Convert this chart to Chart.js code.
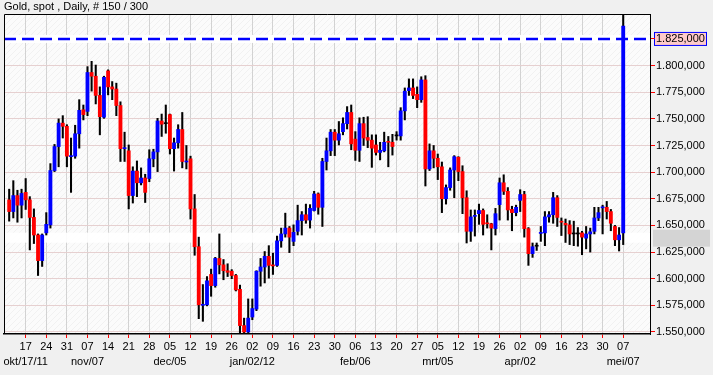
<!DOCTYPE html>
<html>
<head>
<meta charset="utf-8">
<script src="https://cdn.jsdelivr.net/npm/chart.js@4"></script>
<style>
  html, body { margin: 0; padding: 0; background: #f0f0f0; }
  canvas { display: block; }
</style>
</head>
<body>
<canvas id="c" width="713" height="375" style="width:713px;height:375px"></canvas>
<script>
// ---- data (Gold spot, daily, 150 bars: 2011-10-11 .. 2012-05-07) ----
const OPEN = [1674,1663,1678,1669,1681,1674,1657.5,1641,1617,1643,
1650.5,1701.5,1724,1746,1743,1714.5,1715,1736,1758.5,1757,
1793.5,1790,1772,1751.5,1795,1780,1778,1762.5,1722,1720,
1678,1701,1690,1694.5,1694,1712.5,1719,1748,1745.5,1754,
1722,1727.5,1740,1709.5,1712.5,1665.5,1630,1575,1575.5,1604,
1593.5,1619,1613,1607.5,1607,1603,1590,1556,1550,1564,
1571.5,1607,1611,1621,1612.5,1612.5,1635.5,1642,1647.5,1635,
1644.5,1654.5,1660,1655,1664,1679.5,1667,1710,1720,1737.5,
1730,1738,1745.5,1756,1731,1720.5,1745.5,1732.5,1730,1725.5,
1718.5,1720,1728.5,1728,1734,1734,1757.5,1776.5,1779,1773,
1768,1786.5,1703,1720,1713,1705,1675,1685.5,1702,1714,
1700.5,1676,1644.5,1658.5,1661,1664,1652,1651.5,1647,1669.5,
1690,1682,1665,1662,1673.5,1679,1647,1623.5,1630.5,1642.5,
1643,1658,1660,1676,1653.5,1652,1650.5,1642,1642,1643,
1638,1642,1644.5,1657,1666.5,1667,1663,1649,1636.5,1643];
const HIGH = [1684,1692,1683,1684,1694,1677,1665.5,1642,1642,1662,
1708,1726,1750,1753,1744.5,1732,1744,1768,1763,1799,
1804,1800.5,1780,1790,1796,1785,1783.5,1766,1737.5,1725.5,
1705,1710.5,1704,1698,1721,1721.5,1750.5,1754.5,1763,1754.5,
1732,1744.5,1756,1725,1715,1679,1639,1594.5,1602,1609,
1620,1642,1618,1614,1608.5,1604,1594,1563,1581,1581,
1607.5,1619,1625.5,1631,1624,1640,1647.5,1661.5,1649,1650.5,
1669,1663,1670,1669.5,1682,1680.5,1713,1732,1740,1740,
1747.5,1751,1761.5,1763,1738,1751,1751.5,1752,1735,1735,
1728,1737.5,1733.5,1735.5,1738,1760.5,1779,1787.5,1787.5,1780,
1789.5,1790.5,1726.5,1725,1717,1709.5,1688,1704,1715.5,1714.5,
1706,1682.5,1664.5,1664.5,1670,1665.5,1660,1652,1666,1694.5,
1697.5,1685.5,1668,1669,1683.5,1682,1648,1633.5,1633.5,1649,
1663,1663,1681,1678,1657,1656,1654.5,1654,1648,1644.5,
1649,1647.5,1667,1667,1669,1672.5,1665,1650,1648,1848];
const LOW = [1654,1657,1653,1657,1665,1627,1633,1603,1611.5,1641,
1647.5,1700.5,1705,1732,1705,1681,1713,1722.5,1749,1753,
1776,1764,1735,1750.5,1772.5,1768,1753,1710,1710,1665.5,
1671,1677,1688,1671.5,1691,1705,1700.5,1733.5,1736.5,1717,
1701,1722.5,1704,1703,1656,1622,1562.5,1560,1574.5,1583.5,
1592,1604.5,1599,1602,1600,1588.5,1549,1549,1548.5,1561.5,
1570,1593,1596,1600.5,1604,1611.5,1629.5,1639,1624.5,1631,
1641,1641,1652,1647.5,1663.5,1660.5,1649,1702,1715.5,1715.5,
1725.5,1735,1740.5,1721,1711,1710,1725,1723,1704.5,1716,
1711.5,1719,1705,1716,1730,1730,1749,1772,1769,1760.5,
1765.5,1687,1701.5,1704,1693,1662,1670,1683,1676,1692,
1661,1633.5,1635,1640,1651,1641,1647.5,1627,1641,1655,
1679,1655,1645,1659,1663,1639,1612.5,1620,1626.5,1635,
1631,1653,1652,1649,1640.5,1634,1632,1631,1630.5,1622.5,
1628,1625,1642,1654.5,1642,1656,1645,1631,1626,1632];
const CLOSE = [1663,1678,1669,1680,1674,1657.5,1641,1617,1641,1651,
1701.5,1724,1746,1743,1715,1715.5,1736,1758,1754,1793.5,
1790,1772,1752,1789,1780,1778,1762.5,1722,1723,1678,
1701,1690,1694.5,1681,1712.5,1719,1748,1745,1745.5,1722,
1727.5,1740,1710,1710,1665.5,1630,1575.5,1576,1598,1593.5,
1619,1613,1607.5,1606,1603,1589.5,1556,1550,1563,1572,
1607,1611,1621,1612.5,1612,1635.5,1642,1647.5,1639,1643.5,
1654.5,1660,1655,1666,1679.5,1667,1710,1720,1737.5,1730,
1736,1745.5,1756,1726.5,1720.5,1745.5,1732,1730,1722.5,1718.5,
1720.5,1728,1728,1724,1734,1757.5,1776,1779,1772,1768,
1786.5,1703,1720,1713,1705,1675,1685.5,1702,1714.5,1700.5,
1676,1644.5,1658,1659,1664,1651,1651.5,1647.5,1661,1690,
1682,1664.5,1662,1667,1679,1647,1623.5,1630,1630.5,1643,
1658,1660,1676,1657.5,1653,1650.5,1642,1642,1642,1639,
1642,1644,1657,1662,1667,1663,1652,1636.5,1641,1837];

// x-axis ticks: weekly Mondays (bar index), day labels and month labels
const TICK_INDEX = [4,9,14,19,24,29,34,39,44,49,54,59,64,69,74,79,84,89,94,99,104,109,114,119,124,129,134,139,144,149];
const DAY_LABELS = ["17","24","31","07","14","21","28","05","12","19","26","02","09","16","23","30","06","13","20","27","05","12","19","26","02","09","16","23","30","07"];
const MONTH_LABELS = ["okt/17/11","","","nov/07","","","","dec/05","","","","jan/02/12","","","","","feb/06","","","","mrt/05","","","","apr/02","","","","","mei/07"];
// y-axis ticks
const Y_TICKS = [1550,1575,1600,1625,1650,1675,1700,1725,1750,1775,1800,1825];
// reference levels
const REF_LEVEL = 1825;      // blue dashed line with label box
const LAST_LEVEL = 1638.5;   // white band / grey marker

const TITLE = "Gold, spot , Daily, # 150 / 300";
const FONT = "'Liberation Sans', Arial, sans-serif";

function fmt(v){
  const t = Math.floor(v/1000);
  const r = Math.round(v - t*1000);
  return t + '.' + String(r).padStart(3,'0') + ',000';
}

const bodyColors = OPEN.map((o,i)=> CLOSE[i] > o ? '#0000ff' : (CLOSE[i] < o ? '#ff0000' : '#000000'));
const wickData = HIGH.map((h,i)=>({x:i, y:[LOW[i], h]}));
const bodyData = OPEN.map((o,i)=>({x:i, y:[o, CLOSE[i]]}));

function makePattern(ctx){
  const p = document.createElement('canvas');
  p.width = 6; p.height = 6;
  const g = p.getContext('2d');
  g.fillStyle = '#fbfbfb'; g.fillRect(0,0,6,6);
  g.strokeStyle = '#f1f1f1'; g.lineWidth = 1;
  g.beginPath(); g.moveTo(0,6); g.lineTo(6,0); g.stroke();
  return ctx.createPattern(p,'repeat');
}

const decor = {
  id: 'decor',
  beforeDraw(chart){
    const {ctx, chartArea:a, scales:{y}} = chart;
    ctx.save();
    ctx.fillStyle = makePattern(ctx);
    ctx.fillRect(a.left, a.top, a.right-a.left, a.bottom-a.top);
    const yr = y.getPixelForValue(REF_LEVEL);
    ctx.fillStyle = '#ffcaca';
    ctx.fillRect(654.5, yr-6.5, 52, 13);
    ctx.strokeStyle = '#0000ff'; ctx.lineWidth = 1;
    ctx.strokeRect(654.5, yr-6.5, 52, 13);
    const yl = y.getPixelForValue(LAST_LEVEL);
    ctx.fillStyle = '#d4d4d4';
    ctx.fillRect(653, yl-8, 57, 17);
    ctx.restore();
  },
  beforeDatasetsDraw(chart){
    const {ctx, chartArea:a, scales:{y}} = chart;
    ctx.save();
    const yl = y.getPixelForValue(LAST_LEVEL);
    ctx.fillStyle = 'rgba(255,255,255,0.9)';
    ctx.fillRect(a.left, yl-5, a.right-a.left, 10);
    const yr = y.getPixelForValue(REF_LEVEL);
    ctx.fillStyle = '#ffffff';
    ctx.fillRect(a.left, yr-4, a.right-a.left, 8);
    ctx.strokeStyle = '#0000ff'; ctx.lineWidth = 2.5;
    ctx.setLineDash([12,6]);
    ctx.beginPath(); ctx.moveTo(a.left, yr); ctx.lineTo(a.right, yr); ctx.stroke();
    ctx.restore();
  },
  afterDraw(chart){
    const {ctx, chartArea:a} = chart;
    ctx.save();
    ctx.strokeStyle = '#000'; ctx.lineWidth = 1;
    ctx.beginPath();
    ctx.moveTo(a.left+0.5, a.bottom); ctx.lineTo(a.left+0.5, a.top+0.5); ctx.lineTo(a.right, a.top+0.5);
    ctx.stroke();
    ctx.restore();
  }
};

new Chart(document.getElementById('c'), {
  type: 'bar',
  data: {
    datasets: [
      { label: 'body', data: bodyData, backgroundColor: bodyColors, barThickness: 3.2, minBarLength: 1, grouped: false, order: 0, borderWidth: 0 },
      { label: 'wick', data: wickData, backgroundColor: '#000000', barThickness: 1.4, grouped: false, order: 1, borderWidth: 0 }
    ]
  },
  options: {
    responsive: false,
    animation: false,
    devicePixelRatio: 1,
    layout: { padding: { left: 4, top: 0, right: 0, bottom: 0 } },
    plugins: {
      legend: { display: false },
      tooltip: { enabled: false },
      title: {
        display: true, text: TITLE, align: 'start', color: '#000',
        font: { family: FONT, size: 11, weight: 'normal', lineHeight: 1.2 },
        padding: { top: 0, bottom: 0.8 }
      }
    },
    scales: {
      x: {
        type: 'linear', min: -1.26, max: 155.5, offset: false,
        afterBuildTicks: (s) => { s.ticks = TICK_INDEX.map(v => ({ value: v })); },
        afterFit: (s) => { s.height = 41; },
        ticks: {
          autoSkip: false, maxRotation: 0, color: '#000', padding: 1,
          font: { family: FONT, size: 11, lineHeight: 1.38 },
          callback: (v, i) => [DAY_LABELS[i], MONTH_LABELS[i]]
        },
        grid: { offset: false, color: '#d2d2d2', lineWidth: 1, tickColor: '#ff0000', tickLength: 4 },
        border: { color: '#000', width: 1.5 }
      },
      y: {
        position: 'right', min: 1548.1, max: 1848.4,
        afterBuildTicks: (s) => { s.ticks = Y_TICKS.map(v => ({ value: v })); },
        afterFit: (s) => { s.width = 63; },
        ticks: {
          color: '#000', padding: 1,
          font: { family: FONT, size: 11 },
          callback: (v) => fmt(v)
        },
        grid: { color: '#e6d0d0', lineWidth: 1, tickColor: '#ff0000', tickLength: 5 },
        border: { color: '#000', width: 1 }
      }
    }
  },
  plugins: [decor]
});
</script>
</body>
</html>
